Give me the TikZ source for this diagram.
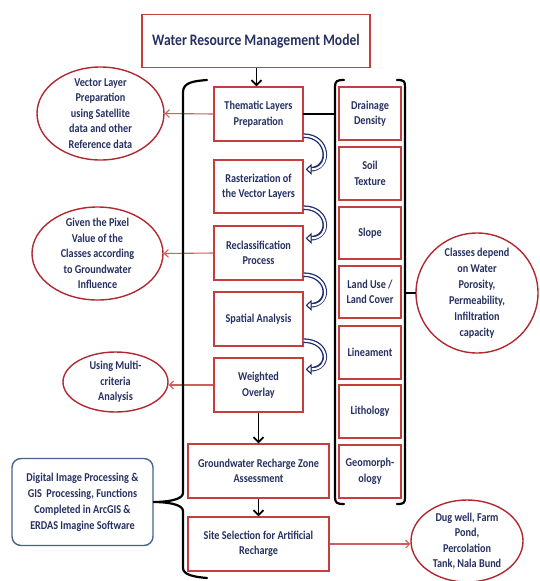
\documentclass[tikz,border=0pt]{standalone}
\usepackage{fontspec}
\setmainfont{Carlito}[FakeStretch=0.85]
\usetikzlibrary{shapes.geometric,arrows.meta,calc}
\definecolor{navy}{RGB}{38,48,98}
\definecolor{boxred}{RGB}{196,62,62}
\definecolor{ellred}{RGB}{178,40,48}
\definecolor{arrred}{RGB}{205,95,95}
\definecolor{steel}{RGB}{70,100,140}
\definecolor{arrblue}{RGB}{30,45,110}
\newcommand\hollowarr[2]{%
  \draw[arrblue, line width=4.6pt, shorten >=4pt] #1 .. controls +(26,0) and +(26,0) .. #2;
  \draw[white, line width=2pt, -{Triangle[open, length=6pt, width=11pt, line width=1.1pt, color=arrblue, fill=white]}] #1 .. controls +(26,0) and +(26,0) .. #2;}
\begin{document}
\begin{tikzpicture}[x=1pt,y=-1pt,
  txt/.style={text=navy, font=\bfseries\fontsize{12}{15.5}\selectfont, align=center, inner sep=0pt},
  procbox/.style={txt, draw=boxred, line width=1.3pt, minimum width=89pt, minimum height=54pt},
  colbox/.style={txt, draw=boxred, line width=1.3pt, minimum width=62pt, minimum height=53pt},
  ell/.style={ellipse, draw=ellred, line width=1.4pt, inner sep=0pt},
  redarrow/.style={draw=arrred, line width=1.1pt, -{Straight Barb[length=4pt,width=8pt]}},
  blackarrow/.style={draw=black, line width=1.8pt, -{Straight Barb[length=5pt,width=10pt]}},
  brk/.style={draw=black, line width=2.2pt, line cap=round, line join=round},
]
\useasboundingbox (0,0) rectangle (539,581);

% title
\node[txt, draw=boxred, line width=1.3pt, minimum width=228pt, minimum height=53pt,
      font=\bfseries\fontsize{16}{19}\selectfont] (title) at (256,41) {Water Resource Management Model};

% central column
\node[procbox] (them) at (258.5,114) {Thematic Layers\\Preparation};
\node[procbox, minimum height=53pt] (rast) at (258.5,186.5) {Rasterization of\\the Vector Layers};
\node[procbox] (recl) at (258.5,253) {Reclassification\\Process};
\node[procbox] (spat) at (258.5,319) {Spatial Analysis};
\node[procbox] (wov) at (258.5,385) {Weighted\\Overlay};
\node[procbox, minimum width=141pt] (grza) at (258.5,471) {Groundwater Recharge Zone\\Assessment};
\node[procbox, minimum width=141pt] (site) at (258.5,544) {Site Selection for Artificial\\Recharge};

% right column
\node[colbox] (dd) at (370,113.5) {Drainage\\Density};
\node[colbox] (st) at (370,173.5) {Soil\\Texture};
\node[colbox, minimum height=52pt] (sl) at (370,233) {Slope};
\node[colbox, minimum height=52pt] (lu) at (370,292) {Land Use /\\Land Cover};
\node[colbox] (ln) at (370,352.5) {Lineament};
\node[colbox] (li) at (370,411.5) {Lithology};
\node[colbox] (gm) at (370,471.5) {Geomorph-\\ology};

% ellipses
\node[ell, minimum width=127pt, minimum height=93pt] (vec) at (100.5,113.5) {};
\node[txt] (vecT) at (vec) {Vector Layer\\Preparation\\using Satellite\\data and other\\Reference data};
\node[ell, minimum width=131pt, minimum height=93pt] (giv) at (97.5,253.5) {};
\node[txt] (givT) at (giv) {Given the Pixel\\Value of the\\Classes according\\to Groundwater\\Influence};
\node[ell, minimum width=105pt, minimum height=60pt] (mcr) at (115.5,382) {};
\node[txt] (mcrT) at (mcr) {Using Multi-\\criteria\\Analysis};
\node[ell, minimum width=122pt, minimum height=120pt] (cls) at (477,293) {};
\node[txt, font=\bfseries\fontsize{12}{16}\selectfont] (clsT) at (cls) {Classes depend\\on Water\\Porosity,\\Permeability,\\Infiltration\\capacity};
\node[ell, minimum width=112pt, minimum height=82pt] (dug) at (467,541) {};
\node[txt] (dugT) at (dug) {Dug well, Farm\\Pond,\\Percolation\\Tank, Nala Bund};

% GIS box
\node[txt, draw=steel, line width=1.4pt, rounded corners=9pt, minimum width=141pt, minimum height=87pt,
      font=\bfseries\fontsize{12}{16}\selectfont] (gis) at (82.5,502) {Digital Image Processing \&\\GIS~ Processing, Functions\\Completed in ArcGIS \&\\ERDAS Imagine Software};

% black arrows
\draw[blackarrow] (title.south -| 256.5,0) -- (them.north -| 256.5,0);
\draw[blackarrow] (wov) -- (grza);
\draw[blackarrow] (grza) -- (site);

% red arrows
\draw[redarrow] (them.west) -- (vec.east);
\draw[redarrow] (recl.west) -- (giv.east);
\draw[redarrow] (wov.west) -- (mcr.east |- wov.west);
\draw[redarrow] (site.east) -- (dug.west |- site.east);

% hollow curved arrows
\hollowarr{($(them.south east)+(0,-6)$)}{($(rast.north east)+(2,10)$)}
\hollowarr{($(rast.south east)+(0,-6)$)}{($(recl.north east)+(2,13)$)}
\hollowarr{($(recl.south east)+(0,-6)$)}{($(spat.north east)+(2,14)$)}
\hollowarr{($(spat.south east)+(0,-6)$)}{($(wov.north east)+(2,12)$)}

% left brace
\draw[brk] (207,80) .. controls (195,81) and (183,82) .. (183,92) -- (183,493)
  .. controls (183,500) and (166,502) .. (gis.east)
  .. controls (166,502) and (183,504) .. (183,511) -- (183,568)
  .. controls (183,575) and (195,577) .. (207,578);

% right brackets
\coordinate (lb) at (335,114);
\coordinate (rb) at (405,293);
\draw[brk] (344,80) .. controls (337,80) and (335,81) .. (335,87) -- (335,497) .. controls (335,503) and (337,504) .. (344,504);
\draw[brk] (397,80) .. controls (404,80) and (405,81) .. (405,87) -- (405,497) .. controls (405,503) and (404,504) .. (397,504);
\draw[brk] (them.east) -- (lb);
\draw[brk] (rb) -- (cls.west);
\end{tikzpicture}
\end{document}
